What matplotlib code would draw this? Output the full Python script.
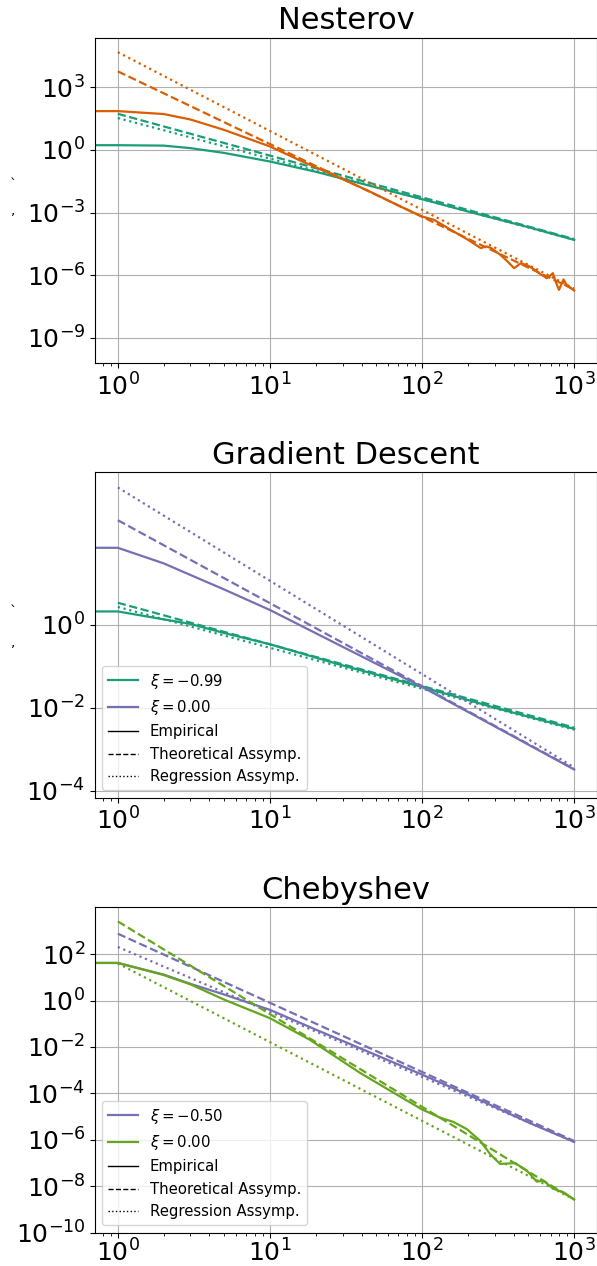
import numpy as np
import matplotlib
matplotlib.use("Agg")
import matplotlib.pyplot as plt
from matplotlib.lines import Line2D
from matplotlib.ticker import NullLocator

# ---------------- data (log10 of y values) ----------------
C_TEAL, C_ORANGE, C_PURPLE, C_GREEN = '#1b9e77', '#d95f02', '#7570b3', '#66a61e'

asym_x = [1, 1000]

# Nesterov
nest_teal_x = [0, 1, 2, 3, 5, 10, 20, 50, 100, 200, 500, 1000]
nest_teal_emp = [0.22, 0.22, 0.20, 0.08, -0.15, -0.56, -1.05, -1.80, -2.36, -2.95, -3.70, -4.31]
nest_teal_theo = [1.72, -4.27]
nest_teal_reg = [1.52, -4.30]
nest_orange_x = [0, 1, 2, 3, 5, 10, 16, 26, 44, 72, 100, 120, 155, 200, 243, 265, 285,
                 324, 360, 403, 447, 500, 550, 600, 661, 700, 724, 760, 794, 851, 900, 1000]
nest_orange_emp = [1.85, 1.85, 1.71, 1.45, 0.95, 0.16, -0.53, -1.20, -1.95, -2.71, -3.19,
                   -3.35, -3.83, -4.30, -4.70, -4.62, -4.70, -5.00, -5.30, -5.66, -5.42,
                   -5.55, -5.74, -5.95, -6.14, -6.00, -5.90, -6.35, -6.70, -6.20, -6.50, -6.73]
nest_orange_theo = [3.75, -6.68]
nest_orange_reg = [4.67, -6.64]

# Gradient descent
gd_x = [0, 1, 2, 3, 5, 10, 30, 100, 300, 1000]
gd_teal_emp = [0.32, 0.32, 0.13, 0.02, -0.20, -0.47, -0.98, -1.50, -2.00, -2.51]
gd_teal_theo = [0.53, -2.48]
gd_teal_reg = [0.43, -2.53]
gd_purple_emp = [1.855, 1.855, 1.48, 1.20, 0.85, 0.355, -0.53, -1.50, -2.45, -3.49]
gd_purple_theo = [2.52, -3.48]
gd_purple_reg = [3.31, -3.44]

# Chebyshev
ch_purple_x = [0, 1, 2, 3, 5, 10, 20, 50, 100, 200, 500, 1000]
ch_purple_emp = [1.62, 1.62, 1.12, 0.72, 0.26, -0.40, -1.25, -2.35, -3.19, -4.05, -5.25, -6.09]
ch_purple_theo = [2.88, -6.05]
ch_purple_reg = [2.31, -6.09]
ch_green_x = [0, 1, 2, 3, 5, 10, 18.3, 39, 65, 100, 131, 161, 197, 241, 280, 326,
              409, 489, 568, 628, 731, 851, 1000]
ch_green_emp = [1.62, 1.62, 1.10, 0.70, 0.04, -0.76, -1.69, -3.11, -3.97, -4.69, -5.04,
                -5.23, -5.54, -6.04, -6.61, -7.04, -7.00, -7.33, -7.80, -7.76, -8.11,
                -8.26, -8.57]
ch_green_theo = [3.41, -8.57]
ch_green_reg = [1.60, -8.57]

titles = ['Nesterov', 'Gradient Descent', 'Chebyshev']
legend_labels_gd = [r'$\xi = -0.99$', r'$\xi = 0.00$']
legend_labels_ch = [r'$\xi = -0.50$', r'$\xi = 0.00$']
style_labels = ['Empirical', 'Theoretical Assymp.', 'Regression Assymp.']

# ---------------- figure ----------------
W, H = 597, 1266
fig = plt.figure(figsize=(W / 100, H / 100), dpi=100)


def axes_px(left, top, right, bottom):
    return fig.add_axes([left / W, 1 - bottom / H, (right - left) / W, (bottom - top) / H])


ax1 = axes_px(95, 37.5, 597, 363.3)
ax2 = axes_px(95, 472.5, 597, 797.7)
ax3 = axes_px(95, 907, 597, 1232.7)


def p(v):
    return 10 ** np.asarray(v, dtype=float)


def draw(ax, x, emp, theo, reg, color):
    ax.plot(x, p(emp), '-', color=color, lw=1.6)
    ax.plot(asym_x, p(theo), '--', color=color, lw=1.6)
    ax.plot(asym_x, p(reg), ':', color=color, lw=1.6)


draw(ax1, nest_teal_x, nest_teal_emp, nest_teal_theo, nest_teal_reg, C_TEAL)
draw(ax1, nest_orange_x, nest_orange_emp, nest_orange_theo, nest_orange_reg, C_ORANGE)
draw(ax2, gd_x, gd_teal_emp, gd_teal_theo, gd_teal_reg, C_TEAL)
draw(ax2, gd_x, gd_purple_emp, gd_purple_theo, gd_purple_reg, C_PURPLE)
draw(ax3, ch_purple_x, ch_purple_emp, ch_purple_theo, ch_purple_reg, C_PURPLE)
draw(ax3, ch_green_x, ch_green_emp, ch_green_theo, ch_green_reg, C_GREEN)

ylims = [(10 ** -10.21, 10 ** 5.37), (10 ** -4.17, 10 ** 3.67), (1e-10, 10 ** 4.03)]
yticks = [[1e-9, 1e-6, 1e-3, 1e0, 1e3], [1e-4, 1e-2, 1e0],
          [1e-10, 1e-8, 1e-6, 1e-4, 1e-2, 1e0, 1e2]]

for ax, t, yl, yt in zip([ax1, ax2, ax3], titles, ylims, yticks):
    ax.set_xscale('log')
    ax.set_yscale('log')
    ax.set_xlim(10 ** -0.15, 10 ** 3.15)
    ax.set_ylim(*yl)
    ax.set_yticks(yt)
    ax.yaxis.set_minor_locator(NullLocator())
    ax.set_title(t, fontsize=22)
    ax.tick_params(axis='both', which='major', labelsize=18)
    ax.grid(True, which='major', color='#b0b0b0', lw=0.8)
    ax.set_axisbelow(True)

ax3.tick_params(axis='x', which='major', pad=1.5)


def add_legend(ax, labels, colors):
    handles = [Line2D([], [], color=colors[0], lw=1.6),
               Line2D([], [], color=colors[1], lw=1.6),
               Line2D([], [], color='k', ls='-', lw=1),
               Line2D([], [], color='k', ls='--', lw=1),
               Line2D([], [], color='k', ls=':', lw=1)]
    ax.legend(handles, list(labels) + style_labels, loc='lower left', fontsize=10.7)


add_legend(ax2, legend_labels_gd, [C_TEAL, C_PURPLE])
add_legend(ax3, legend_labels_ch, [C_PURPLE, C_GREEN])

# small stray marks at the left edge
for (xp, yp, s) in [(13, 185, '`'), (13, 210, ','), (13, 612, '`'), (13, 642, ',')]:
    fig.text(xp / W, 1 - yp / H, s, fontsize=10, ha='center', va='center')

fig.savefig('out.png', dpi=100)
